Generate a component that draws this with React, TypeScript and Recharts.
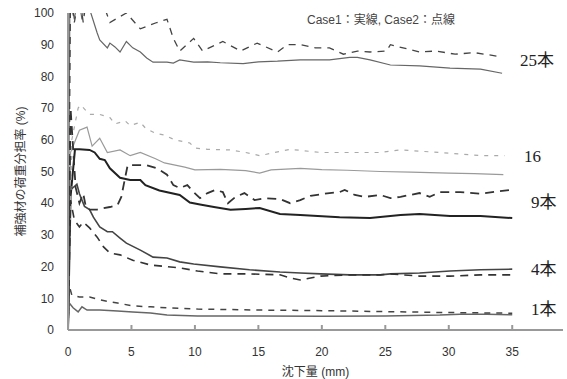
import { LineChart, Line, XAxis, YAxis } from 'recharts';

// 沈下量 (mm) vs 補強材の荷重分担率 (%) — [x, y] pairs
const case1_25 = [[0, 0], [0.15, 106], [0.5, 98], [0.8, 106], [1.1, 98], [1.4, 106], [1.8, 100], [2.3, 93.7], [2.5, 91.5], [3.1, 89], [3.3, 90.5], [3.7, 89.3], [4.1, 87.7], [4.6, 91], [5.1, 89], [5.7, 87.7], [6.2, 85.8], [6.7, 84.5], [7.8, 84.5], [8.3, 84.2], [8.8, 85.2], [9.9, 84.5], [11, 84.6], [12, 84.3], [13.8, 84], [15, 84.6], [16.5, 84.8], [18.3, 85.2], [20.6, 85.2], [22.2, 86], [22.8, 86], [23.8, 85.2], [25.4, 83.6], [27.7, 83.3], [30.1, 82.6], [32.5, 82.3], [34.2, 81]];
const case1_16 = [[0, 0], [0.2, 56], [0.9, 63], [1.5, 64], [1.9, 58], [2.5, 60.5], [3.1, 56], [4.1, 56.8], [4.9, 55], [5.7, 56], [6.9, 54], [7.6, 52.7], [9.2, 51.4], [10, 50.5], [12, 50.7], [14, 50.3], [15.1, 49.5], [16, 50.5], [18.3, 51], [20, 50.6], [22, 50.4], [24.6, 50], [27, 49.8], [30, 49.5], [32, 49.3], [34.3, 49]];
const case1_9 = [[0, 0], [0.2, 42], [0.55, 57], [0.9, 57], [1.7, 56.8], [2.1, 56], [2.5, 54], [2.9, 53.6], [3.3, 51], [4.1, 48], [4.9, 47.3], [5.7, 47.3], [6.1, 45.7], [7.2, 44], [8.8, 42.6], [9.6, 40.2], [10.4, 39.6], [11.5, 38.8], [12.8, 37.9], [14, 38.2], [15.1, 38.5], [16.7, 36.6], [18.3, 36.3], [21.4, 35.6], [23.8, 35.3], [26.2, 36.3], [27.7, 36.6], [30.1, 36], [32.5, 36], [35, 35.3]];
const case1_4 = [[0, 0], [0.15, 44], [0.7, 46], [0.9, 43], [1.3, 39], [1.7, 38], [2, 35.6], [2.5, 32.5], [3.1, 31], [3.5, 31], [4.1, 29], [4.6, 27.4], [5.7, 25.2], [6.7, 23], [7.8, 22.7], [8.8, 21.5], [9.9, 20.8], [12, 19.9], [14.3, 19], [16.7, 18.3], [18.3, 18], [19.9, 17.7], [22.2, 17.4], [24.6, 17.4], [25.4, 17.7], [27.7, 18], [30.1, 18.6], [32.5, 19], [35, 19.2]];
const case1_1 = [[0, 0], [0.1, 8.5], [0.4, 7], [0.8, 5.7], [1.1, 7.3], [1.5, 6.3], [2.5, 6.3], [3.9, 6], [5.1, 5.7], [6.5, 5.4], [7.8, 4.7], [10.2, 4.4], [15, 4.4], [20, 4.3], [25, 4.4], [29.3, 4.7], [30.9, 5], [33, 5], [35, 4.8]];

const case2_25 = [[0, 0], [0.2, 106], [0.5, 97], [0.9, 106], [1.2, 97], [1.5, 106], [2.5, 106], [3.3, 97], [4.6, 100], [5.7, 95], [7, 97], [7.8, 98], [8.3, 92], [8.8, 88], [9.9, 92], [10.6, 88], [12.2, 91], [13.6, 88], [14.9, 90.5], [16.5, 87.7], [17.3, 90], [18.3, 90], [19.5, 89], [20.6, 89], [21.7, 87], [22.8, 88], [23.8, 87.7], [25.1, 88], [25.4, 90], [27.7, 87.7], [29, 88], [30.5, 87], [32, 87.5], [33.8, 86.4]];
const case2_16 = [[0, 0], [0.3, 60], [0.8, 70], [1, 71], [1.7, 68], [2.5, 68], [3.3, 67], [3.7, 65], [4.5, 66], [4.9, 64.5], [5.7, 65.5], [6.1, 63.7], [6.9, 62], [7.6, 61.5], [8.4, 60], [9.6, 59], [10, 57.4], [11, 57], [12.8, 56.8], [14, 56], [15.1, 55], [17.5, 57], [19.9, 56], [22.2, 56], [24.6, 56], [26.2, 56.8], [29.3, 56], [32.5, 55], [34.4, 55]];
const case2_9 = [[0, 0], [0.2, 70], [0.6, 45], [0.9, 40], [1.2, 43], [1.4, 39], [1.7, 38], [2.3, 38], [3.3, 38.8], [3.9, 39.4], [4.2, 42], [4.4, 46], [4.7, 52], [5.2, 52], [6.2, 52], [7, 51], [7.8, 49], [8.3, 45.7], [8.8, 44.8], [9.4, 45.7], [9.9, 43.5], [10.4, 41.6], [11, 43.2], [11.6, 44.2], [12.2, 43.5], [12.6, 40], [13.2, 42], [13.9, 43.2], [14.7, 41], [15.5, 41.6], [16.7, 41.3], [17.5, 40], [18.3, 41], [19.1, 42.3], [20.6, 43.2], [21.4, 43.5], [21.8, 44.2], [22.6, 42.6], [23.4, 42], [24.6, 42.6], [25.4, 41.6], [26.2, 42], [27.7, 43.2], [28.5, 42], [29.3, 43.5], [30.9, 43.5], [32.5, 43], [34, 43.8], [35, 44.2]];
const case2_4 = [[0, 0], [0.2, 41], [0.5, 34.7], [0.9, 32.5], [1.2, 34], [1.7, 32.2], [2.3, 29.3], [2.8, 26.2], [3.3, 24.3], [4.1, 23.7], [5.1, 22], [6.5, 20.5], [7.8, 20], [8.8, 19.6], [10.2, 18.6], [12, 17.7], [14.3, 17.7], [16.7, 17.4], [17.5, 16.4], [18.3, 15.8], [19.9, 17], [22.2, 17.4], [24.6, 17.4], [25.4, 17.7], [27.7, 17], [30.1, 17], [32.5, 17.4], [35, 17.4]];
const case2_1 = [[0, 0], [0.1, 14], [0.3, 11], [0.9, 10.4], [1.7, 10.4], [2.5, 9.5], [3.9, 8.5], [5.1, 7.6], [6.5, 7.3], [7.8, 7], [10.2, 6.6], [15, 6.3], [20, 6.1], [25, 5.8], [30, 5.5], [35, 5.3]];

const xTicks = [0, 5, 10, 15, 20, 25, 30, 35];
const yTicks = [0, 10, 20, 30, 40, 50, 60, 70, 80, 90, 100];

const sans = '"Liberation Sans", Arial, "Noto Sans CJK JP", sans-serif';
const serif = '"Liberation Serif", "Noto Sans CJK JP", serif';

const toPoints = (pairs: number[][]) => pairs.map(([x, y]) => ({ x, y }));

const series = [
    { name: 'c1-25', data: case1_25, stroke: '#666', width: 1.2, dash: undefined },
    { name: 'c1-16', data: case1_16, stroke: '#9a9a9a', width: 1.2, dash: undefined },
    { name: 'c1-9', data: case1_9, stroke: '#222', width: 2, dash: undefined },
    { name: 'c1-4', data: case1_4, stroke: '#444', width: 1.6, dash: undefined },
    { name: 'c1-1', data: case1_1, stroke: '#666', width: 1.5, dash: undefined },
    { name: 'c2-25', data: case2_25, stroke: '#444', width: 1.3, dash: '7 6' },
    { name: 'c2-16', data: case2_16, stroke: '#aaa', width: 1.2, dash: '4 6' },
    { name: 'c2-9', data: case2_9, stroke: '#333', width: 1.8, dash: '9 6' },
    { name: 'c2-4', data: case2_4, stroke: '#333', width: 1.6, dash: '8 6' },
    { name: 'c2-1', data: case2_1, stroke: '#444', width: 1.5, dash: '6 6' },
];

const endLabels = [
    { text: '25本', left: 520, top: 61 },
    { text: '16', left: 524, top: 157 },
    { text: '9本', left: 531, top: 203 },
    { text: '4本', left: 531, top: 270 },
    { text: '1本', left: 531, top: 310 },
];

const YTitle = ({ viewBox }: any) => {
    const cx = viewBox.x + 21;
    const cy = viewBox.y + viewBox.height / 2;
    return (
        <text x={cx} y={cy} transform={`rotate(-90 ${cx} ${cy})`} textAnchor="middle" dominantBaseline="central" fontSize={12} fill="#333" fontFamily={sans}>
            補強材の荷重分担率 (%)
        </text>
    );
};

const App = () => {
    return (
        <div style={{ position: 'absolute', left: 0, top: 0, width: 567, height: 379, background: '#fff' }}>
            <LineChart width={567} height={379} margin={{ top: 13, right: 4, bottom: 3, left: 0 }}>
                <XAxis
                    type="number"
                    dataKey="x"
                    domain={[0, 39]}
                    ticks={xTicks}
                    allowDataOverflow
                    height={46}
                    tickSize={-5}
                    tickMargin={22}
                    stroke="#999"
                    strokeWidth={2}
                    tick={{ fontSize: 12, fill: '#333', fontFamily: sans }}
                    label={{ value: '沈下量 (mm)', position: 'insideBottom', offset: 0, fontSize: 12, fill: '#333', fontFamily: sans }}
                />
                <YAxis
                    type="number"
                    dataKey="y"
                    domain={[0, 100]}
                    ticks={yTicks}
                    allowDataOverflow
                    width={68}
                    tickLine={false}
                    tickSize={0}
                    tickMargin={14}
                    stroke="#999"
                    strokeWidth={2}
                    tick={{ fontSize: 12, fill: '#333', fontFamily: sans }}
                    label={<YTitle />}
                />
                {series.map((s) => (
                    <Line
                        key={s.name}
                        data={toPoints(s.data)}
                        dataKey="y"
                        type="linear"
                        stroke={s.stroke}
                        strokeWidth={s.width}
                        strokeDasharray={s.dash}
                        dot={false}
                        activeDot={false}
                        isAnimationActive={false}
                    />
                ))}
            </LineChart>
            <div style={{ position: 'absolute', left: 307, top: 10, fontSize: 12, color: '#444', fontFamily: sans, whiteSpace: 'nowrap' }}>
                Case1：実線, Case2：点線
            </div>
            {endLabels.map((l) => (
                <div
                    key={l.text}
                    style={{ position: 'absolute', left: l.left, top: l.top - 11, fontSize: 17, lineHeight: '22px', color: '#222', fontFamily: serif, whiteSpace: 'nowrap' }}
                >
                    {l.text}
                </div>
            ))}
        </div>
    );
};

export default App;
